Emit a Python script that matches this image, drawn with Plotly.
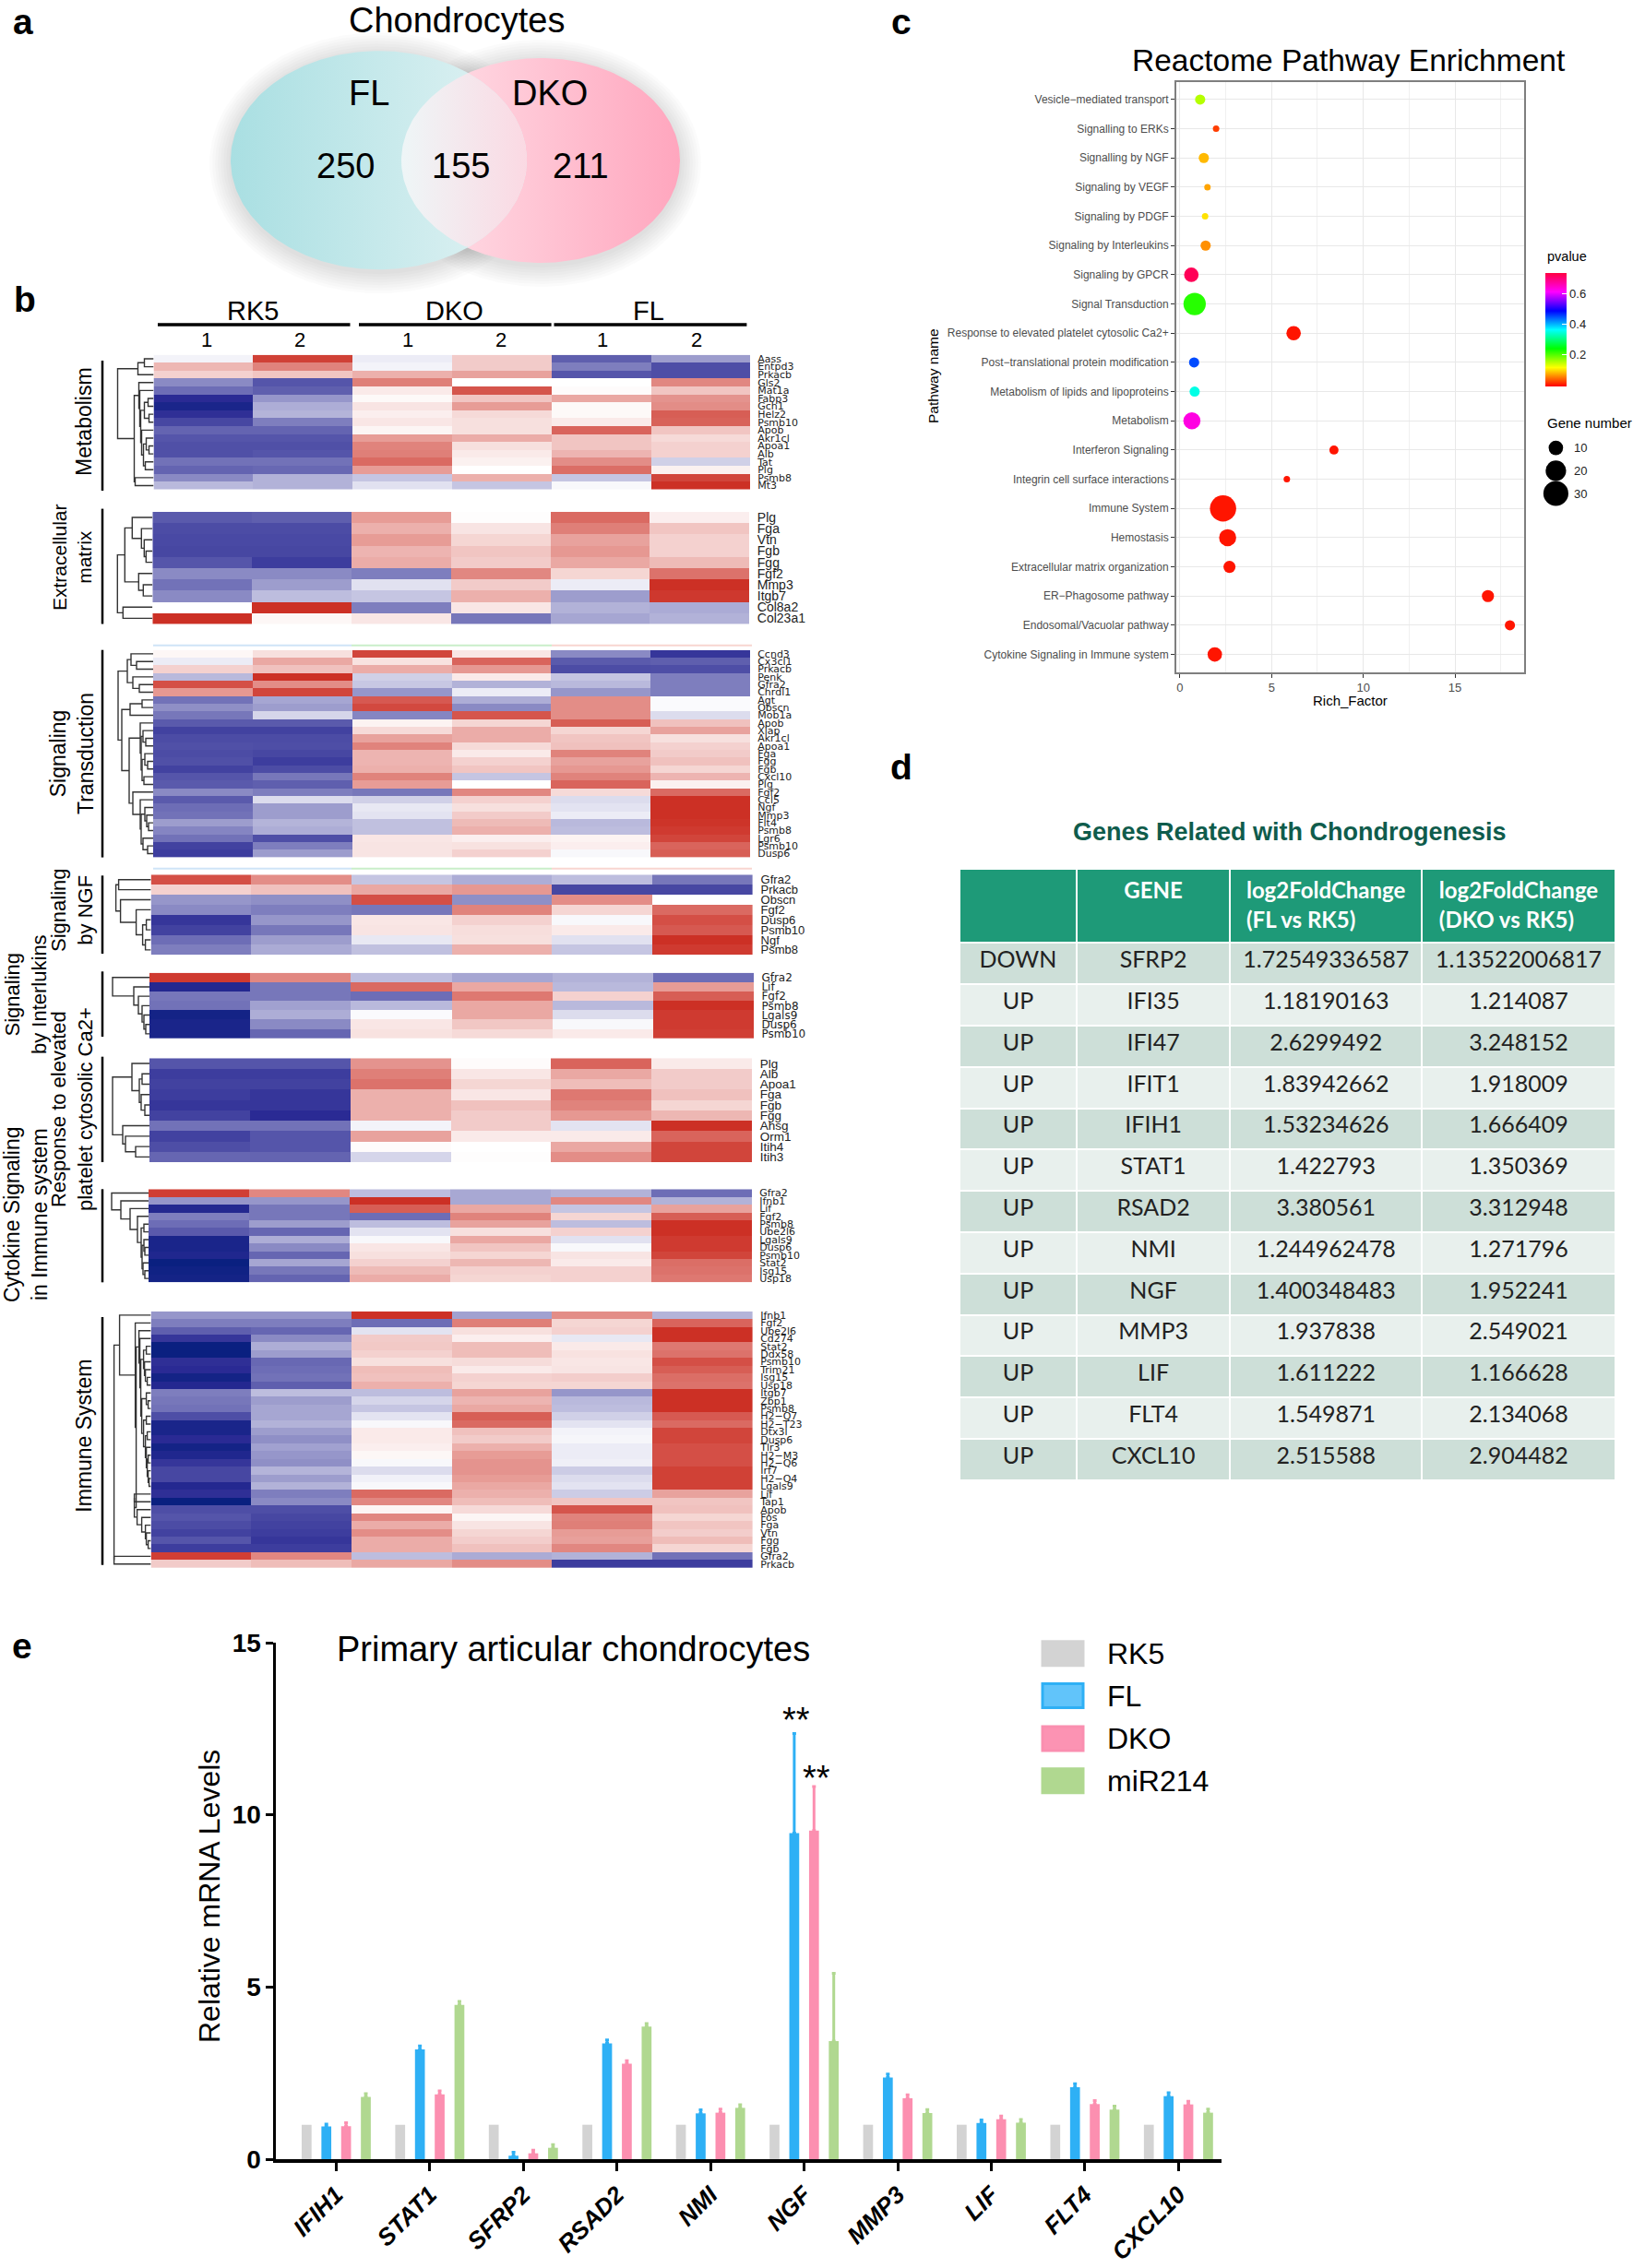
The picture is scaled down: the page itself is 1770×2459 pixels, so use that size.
import numpy as np
import plotly.graph_objects as go

W, H = 1770, 2459
FONT = "Liberation Sans"

# ---------- panel a ----------
venn_counts = ["250", "155", "211"]
venn_sets = ["FL", "DKO"]

# ---------- panel b ----------
metabolism_genes = ["Aass","Entpd3","Prkacb","Gls2","Mat1a","Fabp3","Gch1","Helz2","Psmb10","Apob","Akr1cl","Apoa1","Alb","Tat","Plg","Psmb8","Mt3"]
metabolism_z = [
[-.05,.92,-.08,.25,-.68,-.42],[.35,.6,-.05,.25,-.55,-.75],[.22,.28,.38,.45,-.72,-.75],[-.5,-.72,.62,0,0,.58],
[-.62,-.68,.1,.82,.02,.28],[-.9,-.45,.03,.28,.42,.52],[-.95,-.35,.13,.48,.03,.55],[-.88,-.32,.08,.18,.03,.78],
[-.78,-.55,.12,.15,.1,.76],[-.66,-.66,.05,.15,.75,.28],[-.72,-.72,.48,.4,.28,.18],[-.74,-.74,.6,.15,.28,.22],
[-.74,-.72,.62,.1,.36,.22],[-.6,-.6,.72,.07,.55,-.2],[-.66,-.64,.48,0,.7,.07],[-.5,-.33,-.25,.38,-.25,.9],[-.3,-.33,-.13,-.25,-.03,1]]
ecm_genes = ["Plg","Fga","Vtn","Fgb","Fgg","Fgf2","Mmp3","Itgb7","Col8a2","Col23a1"]
ecm_z = [
[-.7,-.68,.48,.01,.72,.08],[-.76,-.76,.38,.13,.62,.28],[-.77,-.77,.48,.2,.45,.22],[-.78,-.78,.36,.28,.5,.22],
[-.72,-.82,.4,.25,.42,.33],[-.5,-.5,-.55,.58,.2,.68],[-.6,-.42,-.13,.25,-.08,1],[-.5,-.28,-.25,.38,-.42,.96],
[0,1,-.55,.12,-.33,-.36],[1,.04,.12,-.58,-.38,-.33]]
signal_genes = ["Ccnd3","Cx3cl1","Prkacb","Penk","Gfra2","Chrdl1","Agt","Obscn","Mob1a","Apob","Xiap","Akr1cl","Apoa1","Fga","Fgg","Fgb","Cxcl10","Plg","Fgf2","Ccl5","Ngf","Mmp3","Flt4","Psmb8","Lgr6","Psmb10","Dusp6"]
signal_z = [
[.04,.15,.9,.12,-.5,-.85],[-.08,.42,.14,.75,-.7,-.68],[.22,.3,.4,.5,-.76,-.75],[-.3,1,-.2,.1,-.25,-.55],
[.85,.55,-.24,-.33,-.3,-.55],[.5,.9,-.45,-.08,-.45,-.55],[-.6,-.38,.8,-.35,.55,-.02],[-.48,-.42,.88,-.5,.55,-.02],
[-.58,-.18,-.52,.82,.55,-.15],[-.7,-.7,.06,.2,.78,.3],[-.8,-.8,.18,.4,.2,.45],[-.76,-.76,.45,.4,.28,.15],
[-.74,-.75,.6,.18,.3,.22],[-.76,-.78,.36,.1,.6,.25],[-.74,-.82,.36,.22,.45,.3],[-.8,-.76,.38,.28,.5,.2],
[-.72,-.58,.6,-.25,.6,.36],[-.7,-.68,.48,0,.75,.07],[-.5,-.55,-.58,.58,.18,.72],[-.7,-.15,-.2,.22,-.15,1],
[-.62,-.42,-.1,.15,-.12,1],[-.6,-.42,-.12,.25,-.08,1],[-.42,-.32,-.27,.33,-.3,.98],[-.52,-.35,-.27,.38,-.28,.95],
[-.6,-.75,.12,.08,.06,.9],[-.8,-.55,.13,.14,.08,.75],[-.82,-.42,.13,.22,-.03,.78]]
ngf_genes = ["Gfra2","Prkacb","Obscn","Fgf2","Dusp6","Psmb10","Ngf","Psmb8"]
ngf_z = [
[.85,.55,-.25,-.35,-.28,-.58],[.22,.3,.42,.5,-.78,-.78],[-.45,-.48,.85,-.48,.55,0],[-.5,-.55,-.58,.6,.2,.72],
[-.85,-.45,.12,.22,-.03,.85],[-.8,-.58,.13,.16,.1,.8],[-.62,-.42,-.1,.15,-.13,1],[-.55,-.36,-.27,.38,-.25,.95]]
il_genes = ["Gfra2","Lif","Fgf2","Psmb8","Lgals9","Dusp6","Psmb10"]
il_z = [
[.95,.58,-.28,-.38,-.33,-.62],[-.92,-.58,.72,.42,-.3,.48],[-.58,-.58,-.62,.65,.22,.78],[-.6,-.4,-.3,.42,-.3,1],
[-.97,-.35,-.02,.42,-.15,.95],[-.95,-.5,.12,.27,-.03,.95],[-.95,-.65,.14,.18,.1,.93]]
ca_genes = ["Plg","Alb","Apoa1","Fga","Fgb","Fgg","Ahsg","Orm1","Itih4","Itih3"]
ca_z = [
[-.72,-.72,.52,.02,.75,.1],[-.82,-.82,.62,.12,.42,.25],[-.8,-.8,.68,.2,.32,.25],[-.82,-.85,.38,.12,.65,.3],
[-.85,-.85,.38,.3,.6,.2],[-.8,-.9,.38,.25,.5,.35],[-.6,-.6,-.05,.25,-.12,1],[-.8,-.72,.45,.1,.1,.75],
[-.75,-.72,.02,0,.42,.9],[-.65,-.66,-.18,.01,.55,.9]]
cyto_genes = ["Gfra2","Ifnb1","Lif","Fgf2","Psmb8","Ube2l6","Lgals9","Dusp6","Psmb10","Stat2","Isg15","Usp18"]
cyto_z = [
[.93,.58,-.28,-.37,-.33,-.62],[-.45,-.45,1,-.37,.58,-.33],[-.92,-.58,.78,.42,-.25,.45],[-.55,-.58,-.62,.6,.2,.78],
[-.62,-.42,-.28,.45,-.28,1],[-.7,-.65,-.12,.15,.22,1],[-.95,-.35,-.03,.42,-.13,.95],[-.95,-.5,.12,.28,-.03,.95],
[-.93,-.65,.15,.2,.13,.9],[-1,-.38,.22,.35,.1,.7],[-.98,-.58,.33,.22,.22,.68],[-.97,-.66,.4,.2,.22,.65]]
immune_genes = ["Ifnb1","Fgf2","Ube2l6","Cd274","Stat2","Ddx58","Psmb10","Trim21","Isg15","Usp18","Itgb7","Zbp1","Psmb8","H2−Q7","H2−T23","Dtx3l","Dusp6","Tlr3","H2−M3","H2−Q6","Irf7","H2−Q4","Lgals9","Lif","Tap1","Apob","Fos","Fga","Vtn","Fgg","Fgb","Gfra2","Prkacb"]
immune_z = [
[-.45,-.45,1,-.4,.55,-.32],[-.55,-.55,-.62,.62,.2,.75],[-.68,-.65,-.12,.15,.22,1],[-.85,-.5,.25,.08,-.1,1],
[-1,-.35,.26,.32,.1,.65],[-1,-.42,.22,.32,.14,.68],[-.88,-.64,.15,.17,.12,.85],[-.9,-.62,.32,.1,.13,.78],
[-.97,-.6,.3,.22,.24,.7],[-.92,-.68,.38,.2,.2,.68],[-.55,-.28,-.28,.45,-.45,1],[-.58,-.42,-.18,.36,-.3,1],
[-.6,-.38,-.25,.42,-.28,1],[-.75,-.38,-.12,.78,-.2,.8],[-.95,-.33,-.03,.72,-.12,.72],[-.95,-.42,.1,.3,-.05,.9],
[-.9,-.48,.1,.25,-.04,.9],[-.97,-.4,.08,.38,-.08,.85],[-.93,-.45,.04,.48,-.08,.85],[-.85,-.48,-.03,.52,-.07,.85],
[-.78,-.32,-.15,.52,-.22,.92],[-.78,-.42,-.06,.48,-.15,.92],[-.92,-.33,-.03,.42,-.12,.92],[-.88,-.55,.72,.38,-.22,.45],
[-1,-.5,.58,.32,.28,.28],[-.75,-.75,.05,.18,.82,.3],[-.72,-.78,.58,.05,.6,.2],[-.76,-.8,.4,.13,.62,.28],
[-.8,-.82,.55,.2,.48,.24],[-.72,-.85,.4,.24,.46,.32],[-.82,-.82,.4,.3,.58,.2],[.93,.58,-.28,-.36,-.33,-.6],[.25,.32,.42,.55,-.82,-.82]]

# dendrograms as nested merges: (merge height, left, right); 0 = a leaf
metabolism_tree = (39,(17,(10,0,0),0),(21,(16,0,(15,0,(14,(10,(6,0,0),(5,0,0)),(13,0,(11,(8,0,(5,0,0)),(9,0,0)))))),(20,0,0)))
ecm_tree = (38,(30,(22,0,(12,0,(9,0,(7,0,0)))),(15,0,(10,0,0))),(32,0,0))
signal_tree = (38,(28,(24,0,(18,0,0)),(22,0,(15,0,0))),(34,(25,(12,0,0),0),(26,(14,0,(13,(11,0,(8,0,0)),(12,(9,0,(6,0,0)),(10,0,0)))),(22,0,(14,0,(13,(9,0,(7,0,(5,0,0))),(11,0,(6,0,0))))))))
ngf_tree = (38,(35,0,0),(33,0,(16,0,(9,(5,0,0),(6,0,0)))))
il_tree = (40,0,(17,0,(12,0,(8,0,(6,0,(4,0,0))))))
ca_tree = (40,(19,0,(11,(8,0,0),(9,0,(5,0,0)))),(29,0,(26,0,(15,0,0))))
cyto_tree = (40,0,(30,0,(20,0,(12,0,(8,(5,0,0),(7,(5,0,(4,0,0)),(6,0,(4,0,0))))))))
immune_a = (13,0,(12,0,(11,(8,(5,0,0),(7,0,(6,0,(4,0,0)))),(10,(5,0,(3,0,0)),(8,(5,0,0),(6,(4,0,0),(5,0,(4,(3,0,0),(3,0,(2,0,0))))))))))
immune_b = (18,(18,0,0),(15,0,(10,0,(6,0,(5,0,(3,0,0))))))
immune_tree = (40,(34,0,(17,0,(16,immune_a,immune_b))),(40,0,0))

# ---------- panel c ----------
pathways = ["Vesicle−mediated transport","Signalling to ERKs","Signalling by NGF","Signaling by VEGF","Signaling by PDGF","Signaling by Interleukins","Signaling by GPCR","Signal Transduction","Response to elevated platelet cytosolic Ca2+","Post−translational protein modification","Metabolism of lipids and lipoproteins","Metabolism","Interferon Signaling","Integrin cell surface interactions","Immune System","Hemostasis","Extracellular matrix organization","ER−Phagosome pathway","Endosomal/Vacuolar pathway","Cytokine Signaling in Immune system"]
rich_factor = [1.1,1.97,1.3,1.5,1.37,1.4,.62,.8,6.2,.77,.8,.65,8.4,5.83,2.35,2.6,2.7,16.8,18.0,1.9]
pvalue = [.15,.02,.08,.07,.1,.06,.72,.22,0,.45,.35,.63,0,0,0,0,0,0,0,0]
gene_number = [5,2,5,2,2,5,10,24,10,5,5,14,4,2,33,14,7,7,5,10]

# ---------- panel d ----------
col_dir = ["DOWN"] + ["UP"]*12
col_gene = ["SFRP2","IFI35","IFI47","IFIT1","IFIH1","STAT1","RSAD2","NMI","NGF","MMP3","LIF","FLT4","CXCL10"]
col_fl = ["1.72549336587","1.18190163","2.6299492","1.83942662","1.53234626","1.422793","3.380561","1.244962478","1.400348483","1.937838","1.611222","1.549871","2.515588"]
col_dko = ["1.13522006817","1.214087","3.248152","1.918009","1.666409","1.350369","3.312948","1.271796","1.952241","2.549021","1.166628","2.134068","2.904482"]

# ---------- panel e ----------
genes_e = ["IFIH1","STAT1","SFRP2","RSAD2","NMI","NGF","MMP3","LIF","FLT4","CXCL10"]
rk5 = [1,1,1,1,1,1,1,1,1,1]
fl = [.95,3.19,.1,3.36,1.33,9.47,2.37,1.05,2.09,1.83]
dko = [.96,1.88,.17,2.77,1.35,9.54,1.77,1.16,1.6,1.59]
mir214 = [1.81,4.48,.33,3.85,1.49,3.43,1.34,1.06,1.44,1.35]
fl_err = [.07,.1,.1,.1,.1,2.89,.1,.09,.1,.1]
dko_err = [.1,.1,.09,.09,.1,1.28,.1,.09,.1,.09]
mir214_err = [.09,.1,.09,.09,.09,1.97,.1,.09,.1,.1]
legend_e = ["RK5","FL","DKO","miR214"]

# ===================================================================
fig = go.Figure()
layout_axes = {}
annotations = []
shapes = []
axis_n = 1

def fx(px): return px / W
def fy(py): return 1 - py / H

def new_axes(x0, x1, y0, y1, xopts, yopts):
    global axis_n
    axis_n += 1
    n = axis_n
    xo = dict(domain=[fx(x0), fx(x1)], anchor=f"y{n}", fixedrange=True)
    yo = dict(domain=[fy(y1), fy(y0)], anchor=f"x{n}", fixedrange=True)
    xo.update(xopts); yo.update(yopts)
    layout_axes[f"xaxis{n}"] = xo
    layout_axes[f"yaxis{n}"] = yo
    return f"x{n}", f"y{n}"

def note(text, x, y, size, color="#000", angle=0, anchor="center", **kw):
    annotations.append(dict(text=text, x=x, y=y, xref="x", yref="y", showarrow=False,
                            font=dict(size=size, color=color, family=kw.pop("family", FONT)),
                            textangle=angle, xanchor=anchor, yanchor="middle", **kw))

def line(x0, y0, x1, y1, color="#000", width=2):
    shapes.append(dict(type="line", xref="x", yref="y", x0=x0, y0=y0, x1=x1, y1=y1,
                       line=dict(color=color, width=width)))

# page-sized base axes carrying decoration
layout_axes["xaxis"] = dict(domain=[0, 1], range=[0, W], visible=False, fixedrange=True)
layout_axes["yaxis"] = dict(domain=[0, 1], range=[H, 0], visible=False, fixedrange=True)

# panel letters
for t, x, y in [("a", 25, 23), ("b", 27, 324), ("c", 977, 23), ("d", 977, 831), ("e", 24, 1784)]:
    note(f"<b>{t}</b>", x, y, 39)

# ---------- Venn ----------
th = np.linspace(0, 2*np.pi, 241)
A = (410.5, 173.7, 160.5, 118.5)
B = (586.0, 174.0, 151.0, 111.0)
def ell(e, grow=0.0, dy=0.0):
    return e[0] + (e[2]+grow)*np.cos(th), e[1] + dy + (e[3]+grow)*np.sin(th)

for e in (A, B):
    for g in range(2, 26, 3):
        xs, ys = ell(e, g, 3)
        fig.add_trace(go.Scatter(x=xs, y=ys, mode="lines", line=dict(width=0), fill="toself",
                                 fillcolor="rgba(0,0,0,0.016)", hoverinfo="skip", showlegend=False))
def grad_fill(xs, ys, c0, c1):
    fig.add_trace(go.Scatter(x=xs, y=ys, mode="lines", line=dict(width=0), fill="toself",
                             fillgradient=dict(type="horizontal", colorscale=[[0, c0], [1, c1]]),
                             hoverinfo="skip", showlegend=False))
xa, ya = ell(A); xb, yb = ell(B)
grad_fill(xb, yb, "#ffe3ea", "#ffa6be")
grad_fill(xa, ya, "#a9dfe2", "#e3f3f4")
ina = ((xb-A[0])/A[2])**2 + ((yb-A[1])/A[3])**2 <= 1
inb = ((xa-B[0])/B[2])**2 + ((ya-B[1])/B[3])**2 <= 1
pts = np.vstack([np.c_[xa[inb], ya[inb]], np.c_[xb[ina], yb[ina]]])
ang = np.arctan2(pts[:, 1]-174, pts[:, 0]-503)
pts = pts[np.argsort(ang)]
grad_fill(pts[:, 0], pts[:, 1], "#eef6f7", "#fbd9e3")

note("Chondrocytes", 495, 22, 38)
note(venn_sets[0], 400, 101, 38)
note(venn_sets[1], 596, 101, 38)
for t, x in zip(venn_counts, (374, 499, 629)):
    note(t, x, 180, 38)

# ---------- heatmaps ----------
HEAT_SCALE = [[0, "#0a2080"], [.05, "#2a2a94"], [.25, "#8a8ac4"], [.5, "#ffffff"], [1, "#cc3025"]]

def tree_lines(tree):
    xs, ys = [], []
    counter = [0]
    def walk(n):
        if n == 0:
            y = counter[0]; counter[0] += 1
            return 0, y
        h, l, r = n
        hl, yl = walk(l)
        hr, yr = walk(r)
        xs.extend([hl, h, h, hr, None]); ys.extend([yl, yl, yr, yr, None])
        return h, (yl + yr) / 2
    walk(tree)
    return xs, ys

heat_blocks = [
    (metabolism_genes, metabolism_z, metabolism_tree, 166.5, 813, 384.7, 530.8, 11, "DejaVu Sans", (111, 391, 532)),
    (ecm_genes, ecm_z, ecm_tree, 165.3, 812, 554.9, 676.5, 14, FONT, (111, 551.6, 676.5)),
    (signal_genes, signal_z, signal_tree, 166, 813, 704.7, 929.6, 11, "DejaVu Sans", (111, 704.7, 929.6)),
    (ngf_genes, ngf_z, ngf_tree, 163.6, 816, 948.3, 1035.3, 13, FONT, (111, 949.3, 1034)),
    (il_genes, il_z, il_tree, 162, 817, 1054.7, 1126, 12, "DejaVu Sans", (111, 1053.3, 1124)),
    (ca_genes, ca_z, ca_tree, 162, 815, 1147.3, 1260, 13.5, FONT, (111, 1145.7, 1260)),
    (cyto_genes, cyto_z, cyto_tree, 161, 815, 1289.3, 1390.3, 11, "DejaVu Sans", (111, 1289.3, 1390.3)),
    (immune_genes, immune_z, immune_tree, 163.6, 816, 1421.7, 1700, 11, "DejaVu Sans", (111, 1428, 1696.7)),
]
for genes, z, tree, x0, x1, y0, y1, fs, fam, bar in heat_blocks:
    n = len(genes)
    xa_, ya_ = new_axes(x0, x1, y0, y1,
        dict(range=[-.5, 5.5], showticklabels=False, ticks="", showgrid=False, zeroline=False, showline=False),
        dict(range=[n-.5, -.5], side="right", tickmode="array", tickvals=list(range(n)), ticktext=genes,
             tickfont=dict(size=fs, family=fam, color="#222"), ticks="outside", ticklen=5,
             tickcolor="rgba(0,0,0,0)", showgrid=False, zeroline=False, showline=False))
    fig.add_trace(go.Heatmap(z=z, x=list(range(6)), y=list(range(n)), colorscale=HEAT_SCALE, zmin=-1, zmax=1,
                             showscale=False, hoverinfo="skip", xaxis=xa_, yaxis=ya_))
    dx, dy = new_axes(x0-45, x0, y0, y1,
        dict(range=[45, 0], visible=False), dict(range=[n-.5, -.5], visible=False))
    lx, ly = tree_lines(tree)
    fig.add_trace(go.Scatter(x=lx, y=ly, mode="lines", line=dict(color="#333", width=1.4),
                             hoverinfo="skip", showlegend=False, xaxis=dx, yaxis=dy))
    line(bar[0], bar[1], bar[0], bar[2], width=2.5)

for t, x, y, s in [("Metabolism", 91, 457, 23), ("Extracellular<br>matrix", 78, 604, 21), ("Signaling<br>Transduction", 78, 817, 23),
                ("Signaling<br>by NGF", 78, 987, 22), ("Signaling<br>by Interlukins", 28, 1078, 22),
                ("Response to elevated<br>platelet cytosolic Ca2+", 78, 1203, 22),
                ("Cytokine Signaling<br>in Immune system", 28, 1317, 23), ("Immune System", 91, 1556.7, 23)]:
    note(t, x, y, s, angle=-90)

for t, x in [("RK5", 274), ("DKO", 492.5), ("FL", 702.6)]:
    note(t, x, 336.5, 29)
for a, b in [(171, 379.5), (389, 597.6), (600.5, 809.4)]:
    line(a, 352, b, 352, width=3.5)
for t, x in zip("121212", (224, 325, 442, 543, 653, 755)):
    note(t, x, 368, 22)
for yy in (699.8, 941.8):
    line(166, yy, 381, yy, "#cfe4f7", 2)
    line(381, yy, 598, yy, "#c9eec9", 2)
    line(598, yy, 815, yy, "#f8d5d0", 2)

# ---------- panel c ----------
cx, cy = new_axes(1274.8, 1651.9, 88.6, 728.9,
    dict(range=[-.21, 18.77], tickvals=[0, 5, 10, 15], tickfont=dict(size=13, color="#4d4d4d"),
         showgrid=True, gridcolor="#e8e8e8", gridwidth=1.3, zeroline=False, ticks="outside", ticklen=4, tickcolor="#333",
         minor=dict(tickvals=[2.5, 7.5, 12.5, 17.5], showgrid=True, gridcolor="#f0f0f0", gridwidth=1, ticks=""),
         showline=True, mirror=True, linecolor="#7f7f7f", linewidth=1.5),
    dict(range=[19.61, -.61], type="category", categoryorder="array", categoryarray=pathways,
         tickfont=dict(size=12, color="#4d4d4d"), showgrid=True, gridcolor="#e8e8e8", gridwidth=1.3,
         ticks="outside", ticklen=4, tickcolor="#333", showline=True, mirror=True, linecolor="#7f7f7f", linewidth=1.5))
RAINBOW = ["#ff0000", "#ffff00", "#00ff00", "#00ffff", "#0000ff", "#ff00ff", "#ff0040"]
SIZEREF = 1/12.25
fig.add_trace(go.Scatter(x=rich_factor, y=pathways, mode="markers", xaxis=cx, yaxis=cy, showlegend=False, hoverinfo="skip",
    marker=dict(size=gene_number, sizemode="area", sizeref=SIZEREF, color=pvalue, cmin=-.01, cmax=.735, opacity=1,
                colorscale=[[i/6, c] for i, c in enumerate(RAINBOW)], line=dict(width=0),
                colorbar=dict(x=fx(1675), xanchor="left", y=fy(357.5), yanchor="middle", len=123, lenmode="pixels",
                              thickness=23, thicknessmode="pixels", tickvals=[.2, .4, .6], ticks="inside", ticklen=5,
                              tickcolor="#fff", outlinewidth=0, xpad=0, ypad=0, tickfont=dict(size=13, color="#222")))))
note("Reactome Pathway Enrichment", 1461.5, 65.7, 33.5)
note("Rich_Factor", 1463, 759, 15)
note("Pathway name", 1011, 408, 15.5, angle=-90)
note("pvalue", 1675, 277.6, 14.5, anchor="left")
note("Gene number", 1675, 458, 15, anchor="left")
legend_sizes = [10, 20, 30]
legend_y = [485.6, 510.4, 535]
fig.add_trace(go.Scatter(x=[1686.4]*3, y=legend_y, mode="markers", hoverinfo="skip", showlegend=False,
    marker=dict(size=legend_sizes, sizemode="area", sizeref=SIZEREF, color="#000", opacity=1, line=dict(width=0))))
for s, y in zip(legend_sizes, legend_y):
    note(str(s), 1712.6, y, 13, color="#222")

# ---------- panel d ----------
note("<b>Genes Related with Chondrogenesis</b>", 1398, 902, 27, color="#0f5c4c")
row_fill = [("#cddfd8" if i % 2 == 0 else "#e8f0ed") for i in range(13)]
fig.add_trace(go.Table(
    domain=dict(x=[fx(1040), fx(1751.5)], y=[fy(1608), fy(942.4)]),
    columnwidth=[127, 166.5, 208, 210],
    header=dict(values=["", "<b>GENE</b>", "<b>log2FoldChange</b><br><b>(FL vs RK5)</b>", "<b>log2FoldChange</b><br><b>(DKO vs RK5)</b>"],
                fill_color="#1e9a78", line_color="#ffffff", line_width=2, height=80, align="center",
                font=dict(color="#ffffff", size=24, family="Lato")),
    cells=dict(values=[col_dir, col_gene, col_fl, col_dko],
               fill_color=[row_fill]*4, line_color="#ffffff", line_width=2, height=44.8, align="center",
               font=dict(color="#222", size=25, family="Lato"))))

# ---------- panel e ----------
ex, ey = new_axes(299.4, 1324, 1781, 2341,
    dict(type="category", categoryorder="array", categoryarray=genes_e, range=[-.641, 9.46], ticks="outside", ticklen=9,
         tickwidth=3, tickcolor="#000", tickangle=-45, showline=True, linecolor="#000", linewidth=4, showgrid=False, zeroline=False,
         tickfont=dict(size=26, family=FONT, color="#000", weight="bold", style="italic")),
    dict(range=[0, 15], tickvals=[0, 5, 10, 15], ticks="outside", ticklen=8, tickwidth=3, tickcolor="#000", showline=True,
         linecolor="#000", linewidth=3, showgrid=False, zeroline=False,
         tickfont=dict(size=28, family=FONT, color="#000", weight="bold")))
series_e = [(legend_e[0], rk5, None, "#d3d3d3"), (legend_e[1], fl, fl_err, "#2eb0f5"),
            (legend_e[2], dko, dko_err, "#fc8fb0"), (legend_e[3], mir214, mir214_err, "#b0d890")]
for name, v, err, col in series_e:
    ed = dict(visible=False) if err is None else dict(type="data", symmetric=False, array=err, arrayminus=[0]*10,
                                                     color=col, thickness=3, width=2)
    fig.add_trace(go.Bar(x=genes_e, y=v, name=name, marker=dict(color=col, line=dict(width=0)), error_y=ed,
                         xaxis=ex, yaxis=ey, showlegend=False, hoverinfo="skip"))
note("Primary articular chondrocytes", 621, 1788, 38)
note("Relative mRNA Levels", 227, 2056, 32, angle=-90)
note("**", 862.5, 1865, 38)
note("**", 884.7, 1928, 38)
legend_y_e = [1792.7, 1838.6, 1885, 1930.7]
legend_fill = ["#d3d3d3", "#61c4fa", "#fc93b3", "#b0d890"]
legend_line = ["#d3d3d3", "#2eb0f5", "#fa8fb0", "#b0d890"]
for t, y, f, l in zip(legend_e, legend_y_e, legend_fill, legend_line):
    shapes.append(dict(type="rect", xref="x", yref="y", x0=1130, x1=1174, y0=y-13, y1=y+13,
                       fillcolor=f, line=dict(color=l, width=3)))
    note(t, 1197.6, y, 32, anchor="left")

fig.update_layout(width=W, height=H, margin=dict(l=0, r=0, t=0, b=0, autoexpand=False), autosize=False,
                  paper_bgcolor="#fff", plot_bgcolor="rgba(0,0,0,0)", showlegend=False,
                  font=dict(family=FONT), barmode="group", bargap=.156, bargroupgap=.5,
                  annotations=annotations, shapes=shapes, **layout_axes)
fig.write_html("out.html", config=dict(displayModeBar=False), post_script="document.body.style.margin='0';")
